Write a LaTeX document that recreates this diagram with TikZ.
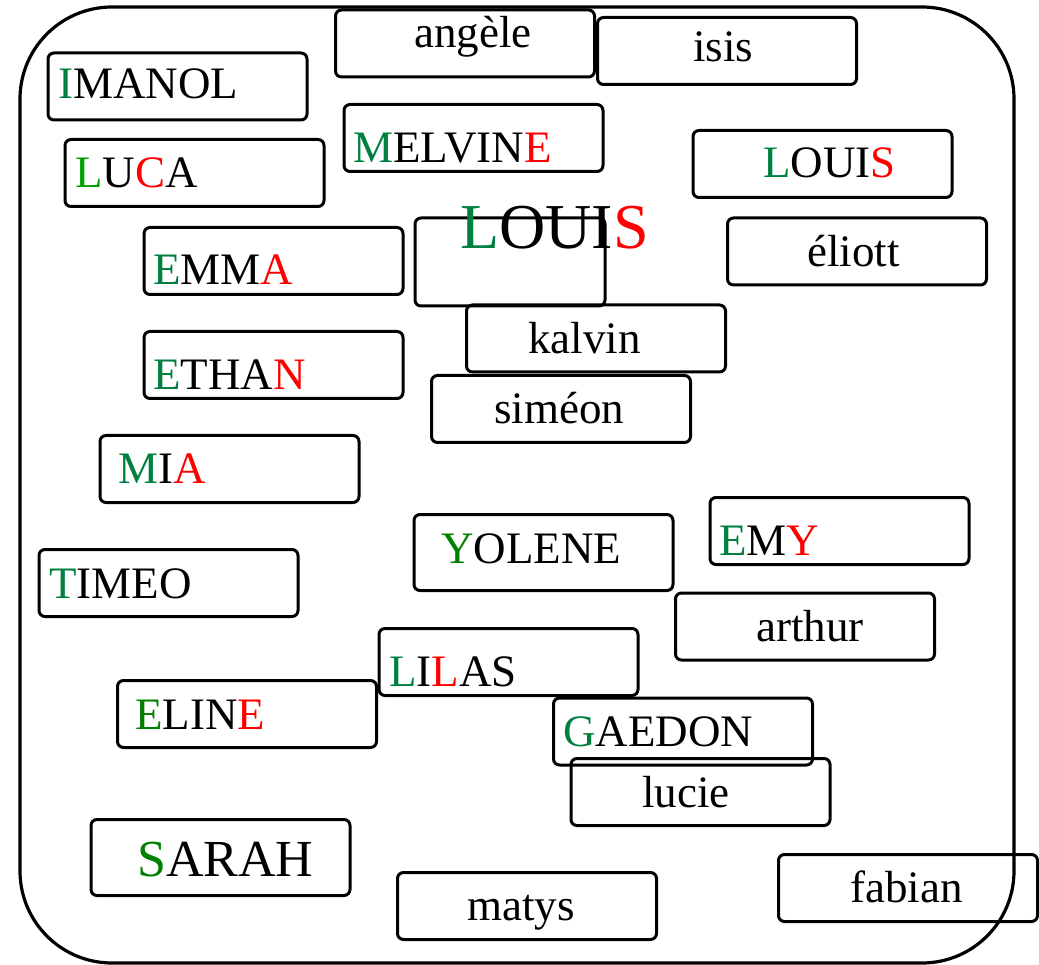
\documentclass[tikz,border=0pt]{standalone}
\usepackage{fontspec}
\setmainfont{Liberation Serif}
\definecolor{gA}{RGB}{0,128,64}
\definecolor{gB}{RGB}{0,160,0}
\definecolor{gC}{RGB}{0,128,0}
\definecolor{rA}{RGB}{255,0,0}
\newcommand\gletter[1]{\textcolor{gA}{#1}}
\newcommand\hletter[1]{\textcolor{gB}{#1}}
\newcommand\kletter[1]{\textcolor{gC}{#1}}
\newcommand\rletter[1]{\textcolor{rA}{#1}}
\begin{document}
\begin{tikzpicture}[x=1pt,y=-1pt,
  namebox/.style={draw=black, line width=3pt, rounded corners=6pt, minimum width=259pt, minimum height=67pt, inner sep=0pt},
  nametext/.style={anchor=base west, inner sep=0pt, font=\fontsize{45}{50}\selectfont},
  bigtext/.style={anchor=base west, inner sep=0pt, font=\fontsize{64}{70}\selectfont},
  sarahtext/.style={anchor=base west, inner sep=0pt, font=\fontsize{52}{58}\selectfont},
  frame/.style={draw=black, line width=3.2pt, rounded corners=92pt}]
\useasboundingbox (0,0) rectangle (1039,965);
\draw[frame] (20,7) rectangle (1014,963);

% boxes
\node[namebox] (b-angele) at (465,43.5) {};
\node[namebox] (b-isis) at (727,51) {};
\node[namebox] (b-imanol) at (177.5,86.5) {};
\node[namebox] (b-melvine) at (473.5,138) {};
\node[namebox] (b-luca) at (194.5,173) {};
\node[namebox] (b-louis) at (822.5,164) {};
\node[namebox, minimum width=190pt, minimum height=88pt] (b-biglouis) at (510,262) {};
\node[namebox] (b-eliott) at (857,251.5) {};
\node[namebox] (b-emma) at (273.5,261) {};
\node[namebox] (b-kalvin) at (596,338.5) {};
\node[namebox] (b-ethan) at (273.5,365) {};
\node[namebox] (b-simeon) at (561,409) {};
\node[namebox] (b-mia) at (229.5,469) {};
\node[namebox] (b-emy) at (839.5,531) {};
\node[namebox, minimum height=76pt] (b-yolene) at (543.5,552.5) {};
\node[namebox] (b-timeo) at (168.5,583) {};
\node[namebox] (b-arthur) at (805,626.5) {};
\node[namebox] (b-lilas) at (508.5,662) {};
\node[namebox] (b-eline) at (247,714) {};
\node[namebox] (b-gaedon) at (683,731.5) {};
\node[namebox] (b-lucie) at (700.5,792) {};
\node[namebox, minimum height=76pt] (b-sarah) at (220.5,857.5) {};
\node[namebox] (b-matys) at (527,906) {};
\node[namebox] (b-fabian) at (908,888) {};

% texts
\node[nametext] (t-angele) at (414,48) {angèle};
\node[nametext] (t-isis) at (693,62) {isis};
\node[nametext] (t-imanol) at (58,99) {\gletter{I}MANOL};
\node[nametext] (t-melvine) at (353,163) {\gletter{M}ELVIN\rletter{E}};
\node[nametext] (t-luca) at (75,188) {\hletter{L}U\rletter{C}A};
\node[nametext] (t-louis) at (763,178) {\gletter{L}OUI\rletter{S}};
\node[bigtext] (t-biglouis) at (460,249) {\gletter{L}OUI\rletter{S}};
\node[nametext] (t-eliott) at (807,267) {éliott};
\node[nametext] (t-emma) at (153,285) {\gletter{E}MM\rletter{A}};
\node[nametext] (t-kalvin) at (528,354) {kalvin};
\node[nametext] (t-ethan) at (153,390) {\gletter{E}THA\rletter{N}};
\node[nametext] (t-simeon) at (494,424) {siméon};
\node[nametext] (t-mia) at (118,483) {\gletter{M}I\rletter{A}};
\node[nametext] (t-emy) at (719,555) {\gletter{E}M\rletter{Y}};
\node[nametext] (t-yolene) at (441,563) {\kletter{Y}OLENE};
\node[nametext] (t-timeo) at (49,598) {\gletter{T}IMEO};
\node[nametext] (t-arthur) at (756,641) {arthur};
\node[nametext] (t-lilas) at (389,686) {\gletter{L}I\rletter{L}AS};
\node[nametext] (t-eline) at (135,729) {\kletter{E}LIN\rletter{E}};
\node[nametext] (t-gaedon) at (563,746) {\gletter{G}AEDON};
\node[nametext] (t-lucie) at (642,807) {lucie};
\node[sarahtext] (t-sarah) at (137,876) {\kletter{S}ARAH};
\node[nametext] (t-matys) at (467,920) {matys};
\node[nametext] (t-fabian) at (850,902) {fabian};
\end{tikzpicture}
\end{document}
